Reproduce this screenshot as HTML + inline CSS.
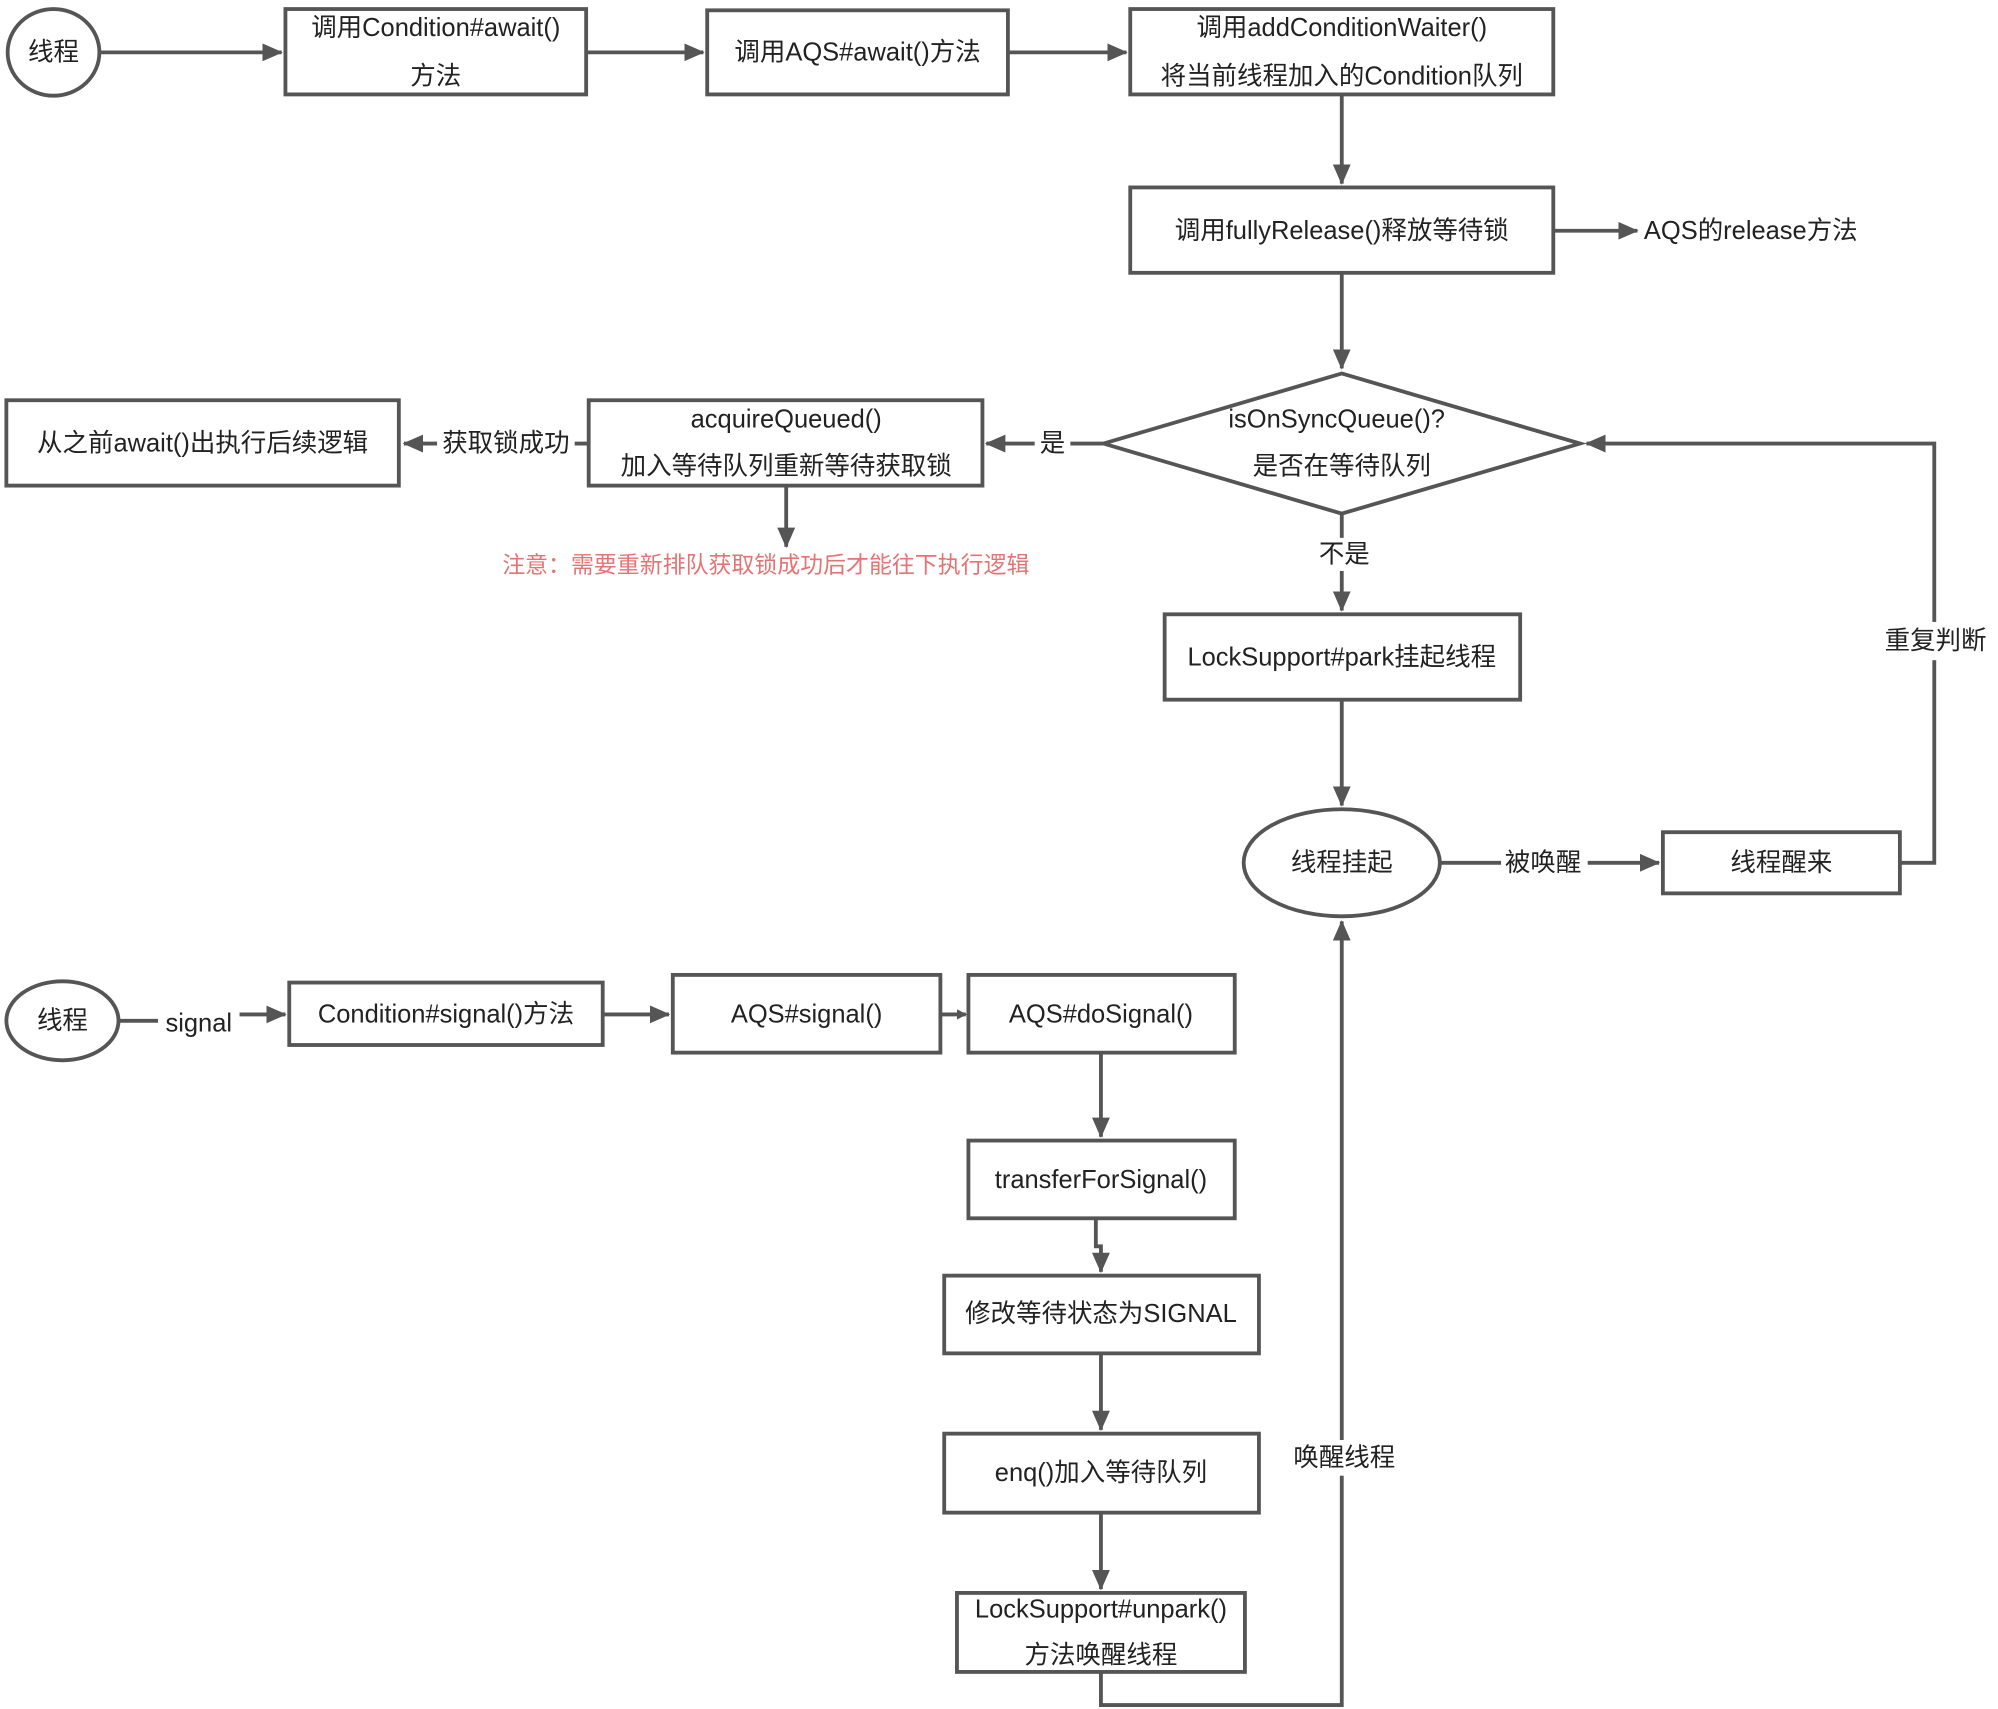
<!DOCTYPE html>
<html><head><meta charset="utf-8"><style>
html,body{margin:0;padding:0;background:#fff;}
svg{display:block;}
text{font-family:"Liberation Sans","Noto Sans CJK SC",sans-serif;font-size:20px;fill:#222;text-anchor:middle;dominant-baseline:central;}
.b{fill:#fff;stroke:#555;stroke-width:3;}
.l{fill:none;stroke:#555;stroke-width:3;}
</style></head><body>
<svg width="1998" height="1709" viewBox="0 0 1568 1341" xmlns="http://www.w3.org/2000/svg">
<defs><marker id="a" markerWidth="8" markerHeight="8" refX="7" refY="4" orient="auto" markerUnits="userSpaceOnUse" viewBox="0 0 8 8"><path d="M0,0 L8,4 L0,8 z" fill="#555"/></marker>
<marker id="A" markerWidth="16" markerHeight="14" refX="15" refY="7" orient="auto" markerUnits="userSpaceOnUse"><path d="M0,0 L16,7 L0,14 z" fill="#555"/></marker></defs>

<ellipse class="b" cx="42" cy="41" rx="36" ry="34"/><text x="42" y="41">线程</text>
<line class="l" x1="79" y1="41" x2="221" y2="41" marker-end="url(#A)"/>
<rect class="b" x="224" y="7" width="236" height="67"/><text x="342" y="22">调用Condition#await()</text><text x="342" y="60">方法</text>
<line class="l" x1="460" y1="41" x2="552" y2="41" marker-end="url(#A)"/>
<rect class="b" x="555" y="8" width="236" height="66"/><text x="673" y="41">调用AQS#await()方法</text>
<line class="l" x1="791" y1="41" x2="884" y2="41" marker-end="url(#A)"/>
<rect class="b" x="887" y="7" width="332" height="67"/><text x="1053" y="22">调用addConditionWaiter()</text><text x="1053" y="60">将当前线程加入的Condition队列</text>
<line class="l" x1="1053" y1="74" x2="1053" y2="144" marker-end="url(#A)"/>
<rect class="b" x="887" y="147" width="332" height="67"/><text x="1053" y="181">调用fullyRelease()释放等待锁</text>
<line class="l" x1="1219" y1="181" x2="1285" y2="181" marker-end="url(#A)"/><text x="1374" y="181">AQS的release方法</text>
<line class="l" x1="1053" y1="214" x2="1053" y2="289" marker-end="url(#A)"/>
<polygon class="b" points="866,348 1053,293 1240,348 1053,403"/><text x="1049" y="329">isOnSyncQueue()?</text><text x="1053" y="366">是否在等待队列</text>
<line class="l" x1="866" y1="348" x2="774" y2="348" marker-end="url(#A)"/><rect x="812" y="334" width="28" height="28" fill="#fff"/><text x="826" y="348">是</text>
<rect class="b" x="462" y="314" width="309" height="67"/><text x="617" y="329">acquireQueued()</text><text x="617" y="366">加入等待队列重新等待获取锁</text>
<line class="l" x1="462" y1="348" x2="317" y2="348" marker-end="url(#A)"/><rect x="343" y="334" width="108" height="28" fill="#fff"/><text x="397" y="348">获取锁成功</text>
<rect class="b" x="5" y="314" width="308" height="67"/><text x="159" y="348">从之前await()出执行后续逻辑</text>
<line class="l" x1="617" y1="381" x2="617" y2="429" marker-end="url(#A)"/>
<text x="601" y="443" style="fill:#e57373;font-size:18px">注意：需要重新排队获取锁成功后才能往下执行逻辑</text>
<line class="l" x1="1053" y1="403" x2="1053" y2="479" marker-end="url(#A)"/><rect x="1030" y="422" width="48" height="26" fill="#fff"/><text x="1055" y="435">不是</text>
<rect class="b" x="914" y="482" width="279" height="67"/><text x="1053" y="516">LockSupport#park挂起线程</text>
<line class="l" x1="1053" y1="549" x2="1053" y2="632" marker-end="url(#A)"/>
<ellipse class="b" cx="1053" cy="677" rx="77" ry="42"/><text x="1053" y="677">线程挂起</text>
<line class="l" x1="1130" y1="677" x2="1302" y2="677" marker-end="url(#A)"/><rect x="1178" y="664" width="68" height="28" fill="#fff"/><text x="1211" y="677">被唤醒</text>
<rect class="b" x="1305" y="653" width="186" height="48"/><text x="1398" y="677">线程醒来</text>
<polyline class="l" points="1491,677 1518,677 1518,348 1245,348" marker-end="url(#A)"/><rect x="1474" y="488" width="90" height="30" fill="#fff"/><text x="1519" y="503">重复判断</text>

<ellipse class="b" cx="49" cy="801" rx="44" ry="31"/><text x="49" y="801">线程</text>
<polyline class="l" points="93,801 124,801"/><text x="156" y="803">signal</text>
<line class="l" x1="188" y1="796" x2="224" y2="796" marker-end="url(#A)"/>
<rect class="b" x="227" y="771" width="246" height="49"/><text x="350" y="796">Condition#signal()方法</text>
<line class="l" x1="473" y1="796" x2="525" y2="796" marker-end="url(#A)"/>
<rect class="b" x="528" y="765" width="210" height="61"/><text x="633" y="796">AQS#signal()</text>
<line class="l" x1="738" y1="796" x2="758" y2="796" marker-end="url(#a)"/>
<rect class="b" x="760" y="765" width="209" height="61"/><text x="864" y="796">AQS#doSignal()</text>
<line class="l" x1="864" y1="826" x2="864" y2="892" marker-end="url(#A)"/>
<rect class="b" x="760" y="895" width="209" height="61"/><text x="864" y="926">transferForSignal()</text>
<polyline class="l" points="860,956 860,978 864,978 864,998" marker-end="url(#A)"/>
<rect class="b" x="741" y="1001" width="247" height="61"/><text x="864" y="1031">修改等待状态为SIGNAL</text>
<line class="l" x1="864" y1="1062" x2="864" y2="1122" marker-end="url(#A)"/>
<rect class="b" x="741" y="1125" width="247" height="62"/><text x="864" y="1156">enq()加入等待队列</text>
<line class="l" x1="864" y1="1187" x2="864" y2="1247" marker-end="url(#A)"/>
<rect class="b" x="751" y="1250" width="226" height="62"/><text x="864" y="1263">LockSupport#unpark()</text><text x="864" y="1299">方法唤醒线程</text>
<polyline class="l" points="864,1312 864,1338 1053,1338 1053,723" marker-end="url(#A)"/>
<rect x="1010" y="1130" width="90" height="28" fill="#fff"/><text x="1055" y="1144">唤醒线程</text>
</svg>
</body></html>
